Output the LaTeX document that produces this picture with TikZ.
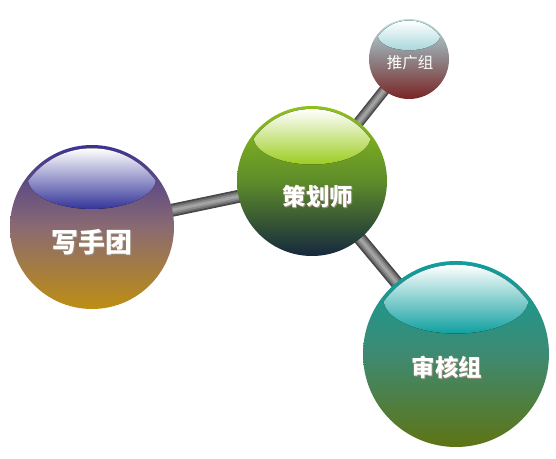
\documentclass[tikz,border=0pt]{standalone}
\usepackage{fontspec}
\newfontfamily\cjk{Noto Sans CJK SC}
\usepackage{tikz}
\usetikzlibrary{backgrounds}
\definecolor{txtshadow}{HTML}{9C8C78}
% ball colours: top, bottom, middle, highlight
\definecolor{wrTop}{HTML}{3A3294}\definecolor{wrBot}{HTML}{BE8E12}\definecolor{wrMid}{HTML}{8A6A72}\definecolor{wrHl}{HTML}{34349A}
\definecolor{plTop}{HTML}{8EC21A}\definecolor{plBot}{HTML}{15283E}\definecolor{plMid}{HTML}{5E8C2A}\definecolor{plHl}{HTML}{9CCC20}
\definecolor{prTop}{HTML}{B8E0E4}\definecolor{prBot}{HTML}{7A2424}\definecolor{prMid}{HTML}{8F8488}\definecolor{prHl}{HTML}{A8D8DC}
\definecolor{rvTop}{HTML}{0C9E9E}\definecolor{rvBot}{HTML}{5E7414}\definecolor{rvMid}{HTML}{3E8A72}\definecolor{rvHl}{HTML}{10A0A0}
\newcommand{\shtxt}[1]{\makebox[0pt][l]{\hspace{1.2pt}\raisebox{-1.2pt}{\color{txtshadow}#1}}\color{white}#1}

\begin{document}
\begin{tikzpicture}[x=1pt, y=1pt,
			ball/.style n args={5}{circle, minimum size=#1, inner sep=0pt, top color=#2, bottom color=#3, middle color=#4,
				path picture={
					\begin{scope}[shift={(path picture bounding box.center)}]
					\clip (0,0) circle (0.48*#1);
					\fill[top color=white, bottom color=#5] (0,0.295*#1) ellipse [x radius=0.39*#1, y radius=0.185*#1];
					\end{scope}}},
			rod/.style={line width=#1, draw=black!72, line cap=butt,
				postaction={draw=black!58, line width=0.75*#1},
				postaction={draw=black!46, line width=0.5*#1},
				postaction={draw=black!36, line width=0.22*#1}},
			bigtxt/.style={font=\cjk\bfseries\fontsize{#1}{#1}\selectfont},]
			
			\useasboundingbox (0,0) rectangle (556,458);
			
			%% BALLS
			\node[ball={164pt}{wrTop}{wrBot}{wrMid}{wrHl},
				label={[bigtxt=27pt, shift={(0,-16)}]center:\shtxt{写手团}}] (writers) at (92,231) {};
			\node[ball={150pt}{plTop}{plBot}{plMid}{plHl},
				label={[bigtxt=23.5pt, shift={(6,-16)}]center:\shtxt{策划师}}] (planner) at (312,277) {};
			\node[ball={80pt}{prTop}{prBot}{prMid}{prHl},
				label={[font=\cjk\fontsize{15.5}{15.5}\selectfont, text=white, shift={(1,-4)}]center:推广组}] (promo) at (409,399) {};
			\node[ball={186pt}{rvTop}{rvBot}{rvMid}{rvHl},
				label={[bigtxt=23.5pt, shift={(-9,-14)}]center:\shtxt{审核组}}] (review) at (456,104) {};
			
			%% RODS
			\begin{scope}[on background layer]
			\draw[rod=13pt] (writers.center) -- (planner.center);
			\draw[rod=11pt] (planner.center) -- (promo.center);
			\draw[rod=13pt] (planner.center) -- (review.center);
			\end{scope}
			\end{tikzpicture}
\end{document}
